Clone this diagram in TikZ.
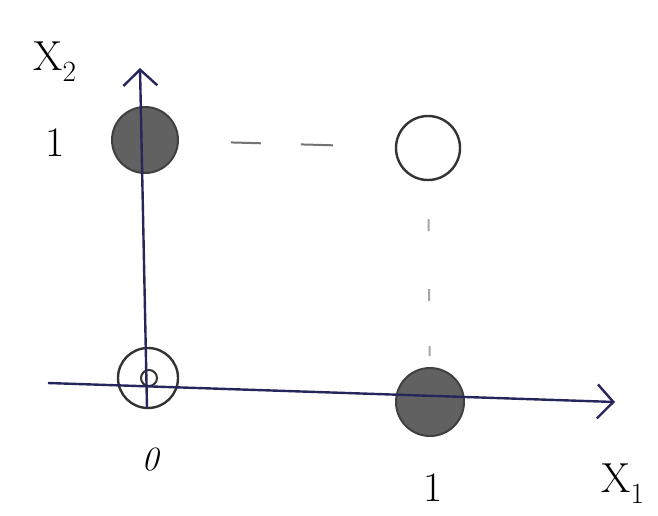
\documentclass[tikz,border=0pt]{standalone}
\usetikzlibrary{arrows.meta}
\begin{document}
\begin{tikzpicture}[x=1pt, y=-1pt, every node/.style={font=\fontsize{42}{46}\selectfont},
  full/.style={circle, draw=black!75, fill=black!62, line width=2pt, minimum size=66pt, inner sep=0pt},
  empty/.style={circle, draw=black!80, line width=2.4pt, minimum size=64pt, inner sep=0pt},
  ax/.style={line width=2.4pt, draw=blue!25!black!85, -{Straight Barb[length=16pt, width=34pt, line width=2.4pt]}}]
  \useasboundingbox (0,0) rectangle (658,515);
  \node[full] (p01) at (145,140) {};
  \node[empty] (p11) at (428,148) {};
  \node[empty, minimum size=60pt] (p00) at (148,378) {};
  \node[empty, minimum size=16pt, line width=2pt] (p00in) at (149,378) {};
  \node[full, minimum size=68pt] (p10) at (430,402) {};
  \coordinate (xs) at (48,383);
  \coordinate (xe) at (615,402);
  \coordinate (ys) at (147,408);
  \coordinate (ye) at (140,68);
  \draw[ax] (xs) -- (xe);
  \draw[ax] (ys) -- (ye);
  % dashed guide lines
  \draw[line width=2pt, black!55, dash pattern=on 0pt off 52pt on 30pt off 40pt on 32pt off 100pt] (p01) -- (p11);
  \draw[line width=2pt, black!35, dash pattern=on 0pt off 38pt on 12pt off 58pt on 12pt off 45pt on 10pt off 100pt] (p11) -- (p10);
  \node (lx2) at (55,62) {X\textsubscript{2}};
  \node (ly1) at (55,143) {1};
  \node (lx0) at (150,460) {\fontsize{34}{38}\selectfont\itshape 0};
  \node (lx1) at (433,488) {1};
  \node[anchor=west] (lx) at (598,484) {X\textsubscript{1}};
\end{tikzpicture}
\end{document}
